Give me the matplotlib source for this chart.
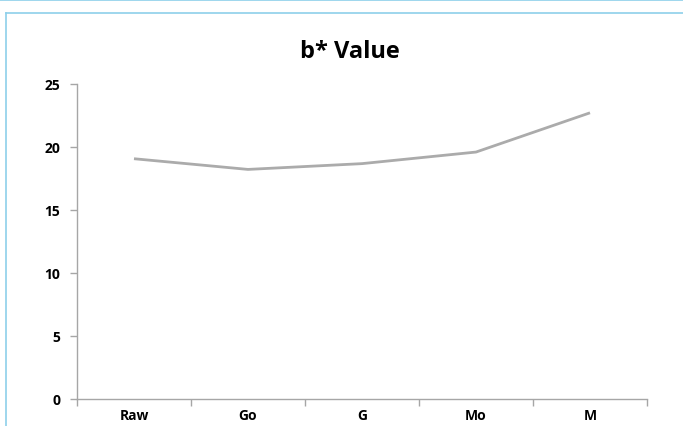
import matplotlib
matplotlib.use("Agg")
import matplotlib.pyplot as plt
from matplotlib.lines import Line2D
import numpy as np

categories = ["Raw", "Go", "G", "Mo", "M"]
b_values = [19.06, 18.21, 18.67, 19.59, 22.71]
y_ticks = [0, 5, 10, 15, 20, 25]

plt.rcParams["font.family"] = ["Open Sans", "DejaVu Sans"]

W, H = 683, 427
fig = plt.figure(figsize=(W / 100, H / 100), dpi=100)
ax = fig.add_axes([77 / W, (H - 399.5) / H, (647 - 77) / W, (399.5 - 85) / H])

x = np.arange(len(categories))
ax.plot(x, b_values, color="#ABABAB", linewidth=2.0, solid_capstyle="butt")

ax.set_xlim(-0.5, len(categories) - 0.5)
ax.set_ylim(0, 25)
ax.set_yticks(y_ticks)
ax.set_yticklabels([str(v) for v in y_ticks], fontsize=10, fontweight="bold")
ax.set_xticks(x)
ax.set_xticklabels(categories, fontsize=10, fontweight="bold")
ax.set_xticks(np.arange(len(categories) + 1) - 0.5, minor=True)

axis_color = "#A6A6A6"
for side in ("top", "right"):
    ax.spines[side].set_visible(False)
for side in ("left", "bottom"):
    ax.spines[side].set_color(axis_color)
    ax.spines[side].set_linewidth(1.0)

ax.tick_params(axis="x", which="major", length=0, pad=7, colors="black")
ax.tick_params(axis="x", which="minor", length=5, width=1, color=axis_color, direction="out")
ax.tick_params(axis="y", which="major", length=5, width=1, color=axis_color, pad=7, labelcolor="black")

fig.text(350 / W, 1 - 57.5 / H, "b* Value", ha="center", va="baseline",
         fontsize=17, fontweight="bold")

# chart frame lines
frame_color = "#8ECFEA"
fig.add_artist(Line2D([0, 1], [1 - 0.5 / H, 1 - 0.5 / H], color=frame_color, lw=1.2,
                      transform=fig.transFigure))
fig.add_artist(Line2D([6 / W, 1], [1 - 13.5 / H, 1 - 13.5 / H], color=frame_color, lw=1.2,
                      transform=fig.transFigure))
fig.add_artist(Line2D([6 / W, 6 / W], [0, 1 - 13.5 / H], color=frame_color, lw=1.2,
                      transform=fig.transFigure))

fig.savefig("out.png", dpi=100)
